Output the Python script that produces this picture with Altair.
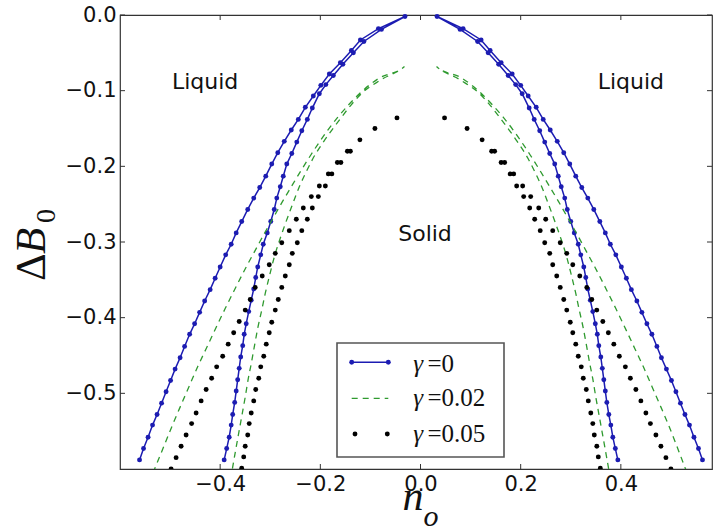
import altair as alt
import pandas as pd

# ---------------- values ----------------
x_ticks = [-0.4, -0.2, 0.0, 0.2, 0.4]
y_ticks = [0.0, -0.1, -0.2, -0.3, -0.4, -0.5]

# gamma = 0 : outer branch bottom -> top, inner branch top -> bottom
blue_outer_y = [-0.588, -0.573, -0.558, -0.542, -0.528, -0.513, -0.498, -0.483, -0.468, -0.453,
                -0.438, -0.422, -0.408, -0.393, -0.378, -0.363, -0.348, -0.333, -0.317, -0.303,
                -0.288, -0.273, -0.257, -0.242, -0.228, -0.213, -0.197, -0.182, -0.167, -0.152,
                -0.138, -0.122, -0.107, -0.093, -0.078, -0.063, -0.047, -0.033, -0.018, -0.002]
blue_outer_x_left = [-0.561, -0.553, -0.544, -0.535, -0.526, -0.517, -0.508, -0.499, -0.490, -0.480,
                     -0.471, -0.461, -0.451, -0.441, -0.431, -0.420, -0.410, -0.400, -0.389, -0.378,
                     -0.368, -0.357, -0.345, -0.333, -0.321, -0.309, -0.297, -0.285, -0.272, -0.258,
                     -0.244, -0.230, -0.214, -0.199, -0.182, -0.160, -0.138, -0.120, -0.084, -0.031]
blue_outer_x_right = [0.563, 0.555, 0.546, 0.537, 0.528, 0.519, 0.510, 0.501, 0.491, 0.481,
                      0.472, 0.462, 0.452, 0.442, 0.432, 0.421, 0.411, 0.401, 0.390, 0.379,
                      0.369, 0.358, 0.346, 0.334, 0.322, 0.310, 0.298, 0.286, 0.273, 0.259,
                      0.245, 0.231, 0.215, 0.200, 0.183, 0.161, 0.139, 0.121, 0.085, 0.033]
blue_inner_y = [-0.019, -0.035, -0.050, -0.065, -0.080, -0.092, -0.104, -0.123, -0.138, -0.153,
                -0.168, -0.183, -0.197, -0.213, -0.227, -0.242, -0.257, -0.273, -0.288, -0.303,
                -0.317, -0.333, -0.347, -0.362, -0.377, -0.392, -0.408, -0.422, -0.437, -0.452,
                -0.467, -0.482, -0.497, -0.512, -0.528, -0.542, -0.558, -0.573, -0.588]
blue_inner_x_left = [-0.078, -0.113, -0.134, -0.155, -0.174, -0.189, -0.202, -0.216, -0.226, -0.237,
                     -0.247, -0.257, -0.267, -0.274, -0.280, -0.287, -0.292, -0.299, -0.306, -0.314,
                     -0.319, -0.325, -0.329, -0.333, -0.338, -0.343, -0.348, -0.352, -0.355, -0.359,
                     -0.362, -0.365, -0.368, -0.371, -0.375, -0.378, -0.382, -0.387, -0.392]
blue_inner_x_right = [0.079, 0.114, 0.135, 0.156, 0.175, 0.190, 0.203, 0.217, 0.227, 0.238,
                      0.248, 0.258, 0.268, 0.275, 0.281, 0.288, 0.293, 0.300, 0.307, 0.315,
                      0.320, 0.326, 0.330, 0.334, 0.339, 0.344, 0.349, 0.353, 0.356, 0.360,
                      0.363, 0.366, 0.369, 0.372, 0.376, 0.380, 0.384, 0.389, 0.394]

# gamma = 0.02
green_outer_y = [-0.605, -0.584, -0.540, -0.500, -0.465, -0.441, -0.410, -0.388, -0.364, -0.333,
                 -0.311, -0.289, -0.268, -0.247, -0.227, -0.205, -0.185, -0.168, -0.152, -0.135,
                 -0.119, -0.104, -0.084, -0.068]
green_outer_x_left = [-0.534, -0.521, -0.494, -0.468, -0.445, -0.428, -0.406, -0.390, -0.372, -0.348,
                      -0.330, -0.312, -0.294, -0.276, -0.258, -0.238, -0.219, -0.202, -0.185, -0.165,
                      -0.144, -0.122, -0.084, -0.032]
green_outer_x_right = [0.532, 0.520, 0.494, 0.468, 0.445, 0.428, 0.406, 0.390, 0.372, 0.348,
                       0.330, 0.312, 0.294, 0.276, 0.258, 0.238, 0.219, 0.202, 0.185, 0.165,
                       0.144, 0.122, 0.084, 0.032]
green_inner_y = [-0.086, -0.104, -0.120, -0.137, -0.152, -0.167, -0.190, -0.207, -0.227, -0.251,
                 -0.276, -0.293, -0.320, -0.346, -0.368, -0.390, -0.414, -0.439, -0.461, -0.481,
                 -0.505, -0.527, -0.549, -0.571, -0.605]
green_inner_x_left = [-0.080, -0.118, -0.140, -0.160, -0.177, -0.193, -0.215, -0.228, -0.242, -0.256,
                      -0.270, -0.279, -0.292, -0.302, -0.310, -0.317, -0.325, -0.332, -0.338, -0.344,
                      -0.350, -0.356, -0.362, -0.368, -0.377]
green_inner_x_right = [0.080, 0.118, 0.140, 0.160, 0.177, 0.193, 0.215, 0.228, 0.242, 0.256,
                       0.270, 0.279, 0.292, 0.302, 0.310, 0.317, 0.325, 0.332, 0.338, 0.344,
                       0.350, 0.356, 0.362, 0.368, 0.377]

# gamma = 0.05
black_outer_y = [-0.600, -0.585, -0.570, -0.555, -0.540, -0.526, -0.510, -0.495, -0.480, -0.465,
                 -0.451, -0.435, -0.420, -0.405, -0.390, -0.376, -0.360, -0.345, -0.330, -0.315,
                 -0.301, -0.285, -0.270, -0.255, -0.240, -0.226, -0.210, -0.195, -0.180, -0.165,
                 -0.150, -0.136]
black_outer_x_left = [-0.498, -0.488, -0.478, -0.468, -0.457, -0.448, -0.438, -0.428, -0.417, -0.407,
                      -0.395, -0.384, -0.373, -0.362, -0.350, -0.340, -0.330, -0.316, -0.302, -0.290,
                      -0.277, -0.262, -0.248, -0.234, -0.218, -0.202, -0.184, -0.166, -0.146, -0.121,
                      -0.091, -0.047]
black_outer_x_right = [0.500, 0.490, 0.480, 0.470, 0.459, 0.450, 0.440, 0.430, 0.419, 0.409,
                       0.397, 0.386, 0.375, 0.364, 0.352, 0.342, 0.332, 0.318, 0.304, 0.292,
                       0.279, 0.264, 0.250, 0.236, 0.220, 0.204, 0.186, 0.168, 0.148, 0.123,
                       0.093, 0.048]
black_inner_y = [-0.180, -0.195, -0.210, -0.226, -0.240, -0.255, -0.270, -0.285, -0.301, -0.315,
                 -0.330, -0.345, -0.360, -0.376, -0.390, -0.406, -0.420, -0.435, -0.451, -0.465,
                 -0.480, -0.495, -0.510, -0.526, -0.540, -0.555, -0.570, -0.584, -0.599]
black_inner_x_left = [-0.140, -0.159, -0.177, -0.190, -0.204, -0.216, -0.226, -0.237, -0.246, -0.256,
                      -0.262, -0.270, -0.277, -0.284, -0.290, -0.297, -0.302, -0.308, -0.313, -0.319,
                      -0.323, -0.329, -0.333, -0.338, -0.342, -0.345, -0.350, -0.353, -0.357]
black_inner_x_right = [0.142, 0.161, 0.179, 0.192, 0.206, 0.218, 0.228, 0.239, 0.248, 0.258,
                       0.264, 0.272, 0.279, 0.286, 0.292, 0.299, 0.304, 0.310, 0.315, 0.321,
                       0.325, 0.331, 0.335, 0.340, 0.344, 0.347, 0.352, 0.355, 0.359]

ann_text = ["Liquid", "Liquid", "Solid"]
ann_x = [-0.43, 0.42, 0.009]
ann_y = [-0.089, -0.089, -0.290]

legend_labels = ["=0", "=0.02", "=0.05"]

# ---------------- build tables ----------------
def hairpin(name, ox_l, ox_r, oy, ix_l, ix_r, iy):
    rows = []
    for side, ox, ix in (("L", ox_l, ix_l), ("R", ox_r, ix_r)):
        xs_ = list(ox) + list(ix)
        ys_ = list(oy) + list(iy)
        for i, (xv, yv) in enumerate(zip(xs_, ys_)):
            rows.append({"series": name, "side": side, "i": i, "x": xv, "y": yv})
    return pd.DataFrame(rows)

blue_df = hairpin("g0", blue_outer_x_left, blue_outer_x_right, blue_outer_y,
                  blue_inner_x_left, blue_inner_x_right, blue_inner_y)
green_df = hairpin("g002", green_outer_x_left, green_outer_x_right, green_outer_y,
                   green_inner_x_left, green_inner_x_right, green_inner_y)
black_df = hairpin("g005", black_outer_x_left, black_outer_x_right, black_outer_y,
                   black_inner_x_left, black_inner_x_right, black_inner_y)
ann_df = pd.DataFrame({"x": ann_x, "y": ann_y, "t": ann_text})

W, H = 592, 454
BLUE = "#1c1cb2"
GREEN = "#2f9a2f"
INK = "#111"

xs = alt.Scale(domain=[-0.6, 0.582], nice=False, zero=False)
ys = alt.Scale(domain=[-0.6, 0.0], nice=False, zero=False)
lab = dict(labelFont="DejaVu Sans", labelFontSize=21, labelColor=INK,
           ticks=False, domain=False, grid=False, format=".1f", labelFlush=False)
X = alt.X("x:Q", scale=xs, axis=alt.Axis(values=x_ticks, labelPadding=4, **lab), title=None)
Y = alt.Y("y:Q", scale=ys, axis=alt.Axis(values=y_ticks, labelPadding=4, **lab), title=None)

layers = []
layers.append(alt.Chart(blue_df).mark_line(color=BLUE, strokeWidth=1.5, clip=True).encode(
    x=X, y=Y, detail="side:N", order="i:Q"))
layers.append(alt.Chart(blue_df).mark_circle(color=BLUE, size=24, opacity=1).encode(x=X, y=Y))
layers.append(alt.Chart(green_df).mark_line(color=GREEN, strokeWidth=1.3, strokeDash=[6, 5],
                                             interpolate="monotone", clip=True).encode(
    x=X, y=Y, detail="side:N", order="i:Q"))
layers.append(alt.Chart(black_df).mark_circle(color="black", size=24, opacity=1, clip=True).encode(
    x=X, y=Y))
layers.append(alt.Chart(ann_df).mark_text(font="DejaVu Sans", fontSize=22, color=INK,
                                          align="center", baseline="middle").encode(
    x=X, y=Y, text="t:N"))

# inward tick marks on all four sides
xt = pd.DataFrame({"x": x_ticks})
yt = pd.DataFrame({"y": y_ticks})
TK = "#333"
layers.append(alt.Chart(xt).mark_rule(color=TK, strokeWidth=1).encode(
    x=X, y=alt.value(H), y2=alt.value(H - 5)))
layers.append(alt.Chart(xt).mark_rule(color=TK, strokeWidth=1).encode(
    x=X, y=alt.value(0), y2=alt.value(5)))
layers.append(alt.Chart(yt).mark_rule(color=TK, strokeWidth=1).encode(
    y=Y, x=alt.value(0), x2=alt.value(5)))
layers.append(alt.Chart(yt).mark_rule(color=TK, strokeWidth=1).encode(
    y=Y, x=alt.value(W), x2=alt.value(W - 5)))

one = pd.DataFrame({"k": [0]})

# legend box
layers.append(alt.Chart(one).mark_rect(fill="white", stroke="#555", strokeWidth=1.6).encode(
    x=alt.value(217), x2=alt.value(384), y=alt.value(328), y2=alt.value(442)))
rows_y = [347.3, 383.3, 419.0]
layers.append(alt.Chart(one).mark_rule(color=BLUE, strokeWidth=1.5).encode(
    x=alt.value(231.7), x2=alt.value(268.3), y=alt.value(rows_y[0])))
for px in (231.7, 268.3):
    layers.append(alt.Chart(one).mark_circle(color=BLUE, size=24, opacity=1).encode(
        x=alt.value(px), y=alt.value(rows_y[0])))
layers.append(alt.Chart(one).mark_rule(color=GREEN, strokeWidth=1.3, strokeDash=[6, 5]).encode(
    x=alt.value(231.7), x2=alt.value(268.3), y=alt.value(rows_y[1])))
for px in (235.0, 267.3):
    layers.append(alt.Chart(one).mark_circle(color="black", size=24, opacity=1).encode(
        x=alt.value(px), y=alt.value(rows_y[2])))
text_base = [357.0, 391.0, 426.7]
for lbl, by in zip(legend_labels, text_base):
    layers.append(alt.Chart(one).mark_text(font="Liberation Serif", fontSize=25, fontStyle="italic",
                                           align="left", baseline="alphabetic", color=INK).encode(
        x=alt.value(293.3), y=alt.value(by), text=alt.value("γ")))
    layers.append(alt.Chart(one).mark_text(font="Liberation Serif", fontSize=25,
                                           align="left", baseline="alphabetic", color=INK).encode(
        x=alt.value(307.5), y=alt.value(by), text=alt.value(lbl)))

# axis titles (built from pieces to get italic letters and subscripts)
layers.append(alt.Chart(one).mark_text(font="Liberation Serif", fontSize=42, fontStyle="italic",
                                       align="center", baseline="alphabetic", color=INK).encode(
    x=alt.value(293), y=alt.value(495), text=alt.value("n")))
layers.append(alt.Chart(one).mark_text(font="Liberation Serif", fontSize=30, fontStyle="italic",
                                       align="center", baseline="alphabetic", color=INK).encode(
    x=alt.value(311), y=alt.value(511), text=alt.value("o")))
layers.append(alt.Chart(one).mark_text(font="Liberation Serif", fontSize=43, angle=270,
                                       align="left", baseline="alphabetic", color=INK).encode(
    x=alt.value(-75), y=alt.value(266), text=alt.value("Δ")))
layers.append(alt.Chart(one).mark_text(font="Liberation Serif", fontSize=43, fontStyle="italic",
                                       angle=270, align="left", baseline="alphabetic",
                                       color=INK).encode(
    x=alt.value(-75), y=alt.value(239), text=alt.value("B")))
layers.append(alt.Chart(one).mark_text(font="Liberation Serif", fontSize=28, angle=270,
                                       align="left", baseline="alphabetic", color=INK).encode(
    x=alt.value(-65), y=alt.value(208), text=alt.value("0")))

chart = alt.layer(*layers).properties(
    width=W, height=H,
    padding={"left": 120, "top": 15, "right": 1, "bottom": 62},
    autosize=alt.AutoSizeParams(type="none"),
    background="white",
).configure_view(stroke="#333", strokeWidth=1.2)

chart.save("out.html", embed_options={"renderer": "svg", "actions": False})
